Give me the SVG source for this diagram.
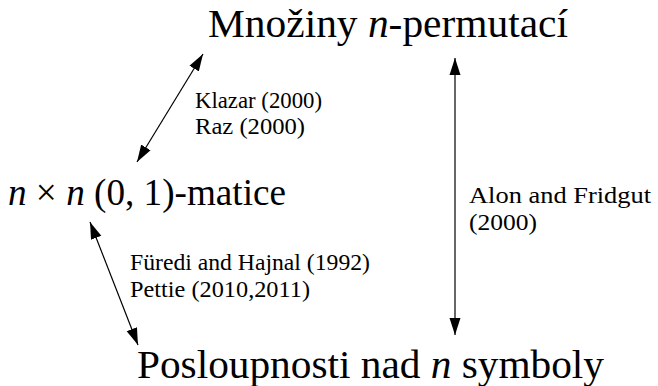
<svg xmlns="http://www.w3.org/2000/svg" width="658" height="386" viewBox="0 0 658 386">
<style>
.big{font-size:41px}
.mid{font-size:37px}
.lab{font-size:22.5px}
.it{font-style:italic}
.conn line{stroke:#000;stroke-width:1.2;fill:none}
</style>
<defs>
<marker id="ah" viewBox="0 0 17 12" refX="17" refY="6" markerWidth="17" markerHeight="12" markerUnits="userSpaceOnUse" orient="auto-start-reverse">
<path d="M0,0.5 L17,6 L0,11.5 Z" fill="#000"/>
</marker>
</defs>
<rect width="658" height="386" fill="#fff"/>
<g font-family="'Liberation Serif', 'DejaVu Serif', serif" fill="#000">
<g id="perm">
<text class="big" x="208" y="37" textLength="360" lengthAdjust="spacingAndGlyphs">Množiny <tspan class="it">n</tspan>-permutací</text>
</g>
<g id="matice">
<text class="mid" x="8" y="205" textLength="278" lengthAdjust="spacingAndGlyphs"><tspan class="it">n</tspan> × <tspan class="it">n</tspan> (0, 1)-matice</text>
</g>
<g id="posl">
<text class="big" x="137" y="378" textLength="467" lengthAdjust="spacingAndGlyphs">Posloupnosti nad <tspan class="it">n</tspan> symboly</text>
</g>
<g id="labels">
<text class="lab" x="195" y="108" textLength="127" lengthAdjust="spacingAndGlyphs">Klazar (2000)</text>
<text class="lab" x="195" y="134" textLength="110" lengthAdjust="spacingAndGlyphs">Raz (2000)</text>
<text class="lab" x="130" y="270" textLength="240" lengthAdjust="spacingAndGlyphs">Füredi and Hajnal (1992)</text>
<text class="lab" x="130" y="297" textLength="180" lengthAdjust="spacingAndGlyphs">Pettie (2010,2011)</text>
<text class="lab" x="469" y="203" textLength="182" lengthAdjust="spacingAndGlyphs">Alon and Fridgut</text>
<text class="lab" x="469" y="230" textLength="68" lengthAdjust="spacingAndGlyphs">(2000)</text>
</g>
</g>
<g class="conn" id="connectors">
<line x1="137" y1="162" x2="203" y2="54" marker-start="url(#ah)" marker-end="url(#ah)"/>
<line x1="90" y1="222" x2="138" y2="345" marker-start="url(#ah)" marker-end="url(#ah)"/>
<line x1="455" y1="58" x2="455" y2="335" marker-start="url(#ah)" marker-end="url(#ah)"/>
</g>
</svg>
